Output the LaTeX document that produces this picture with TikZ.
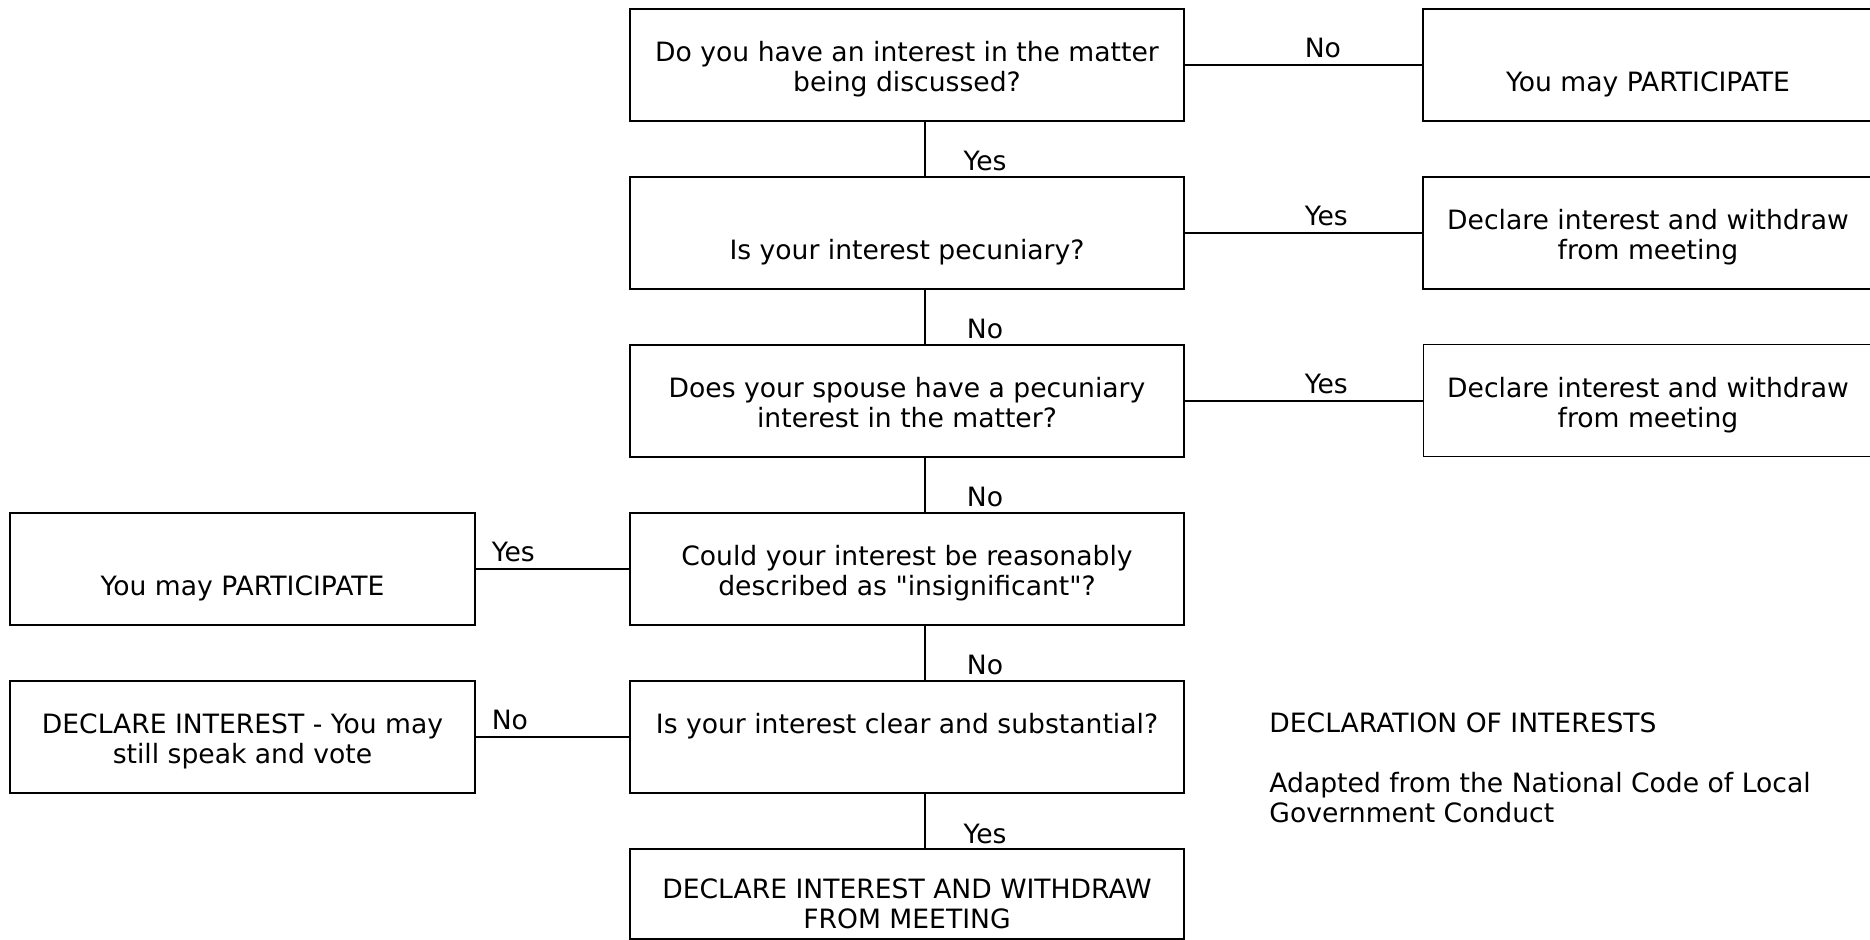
\documentclass[tikz,border=0pt]{standalone}
\usepackage{fontspec}
\setmainfont{DejaVu Sans}
\usetikzlibrary{positioning}

\newcommand{\boxfont}{\fontsize{13.3pt}{15pt}\selectfont}
\newcommand{\twolines}[3][16pt]{\rule{0pt}{#1}#2\\#3\strut}

\begin{document}
\begin{tikzpicture}[
  qbox/.style={draw, line width=1.3pt, outer sep=0pt, inner sep=0pt,
               minimum width=277pt, minimum height=56pt,
               align=center, font=\boxfont},
  abox/.style={qbox, minimum width=225pt},
  lbox/.style={qbox, minimum width=232.5pt},
  thinbox/.style={abox, line width=0.5pt},
  link/.style={line width=1.3pt},
  lbl/.style={font=\boxfont, inner sep=0pt, anchor=base west},
  vlbl/.style={font=\boxfont, inner sep=0pt, anchor=base},
  note/.style={font=\boxfont, inner sep=0pt, align=left},
  ]
  \useasboundingbox (0,0) rectangle (935pt,-470pt);

  % questions down the middle
  \node[qbox] (q1) at (453.5pt,-32.5pt) {\twolines{Do you have an interest in the matter}{being discussed?}};
  \node[qbox, below=28pt of q1] (q2) {\twolines{}{Is your interest pecuniary?}};
  \node[qbox, below=28pt of q2] (q3) {\twolines{Does your spouse have a pecuniary}{interest in the matter?}};
  \node[qbox, below=28pt of q3] (q4) {\twolines{Could your interest be reasonably}{described as \textquotedbl insignificant\textquotedbl?}};
  \node[qbox, below=28pt of q4] (q5) {\twolines{Is your interest clear and substantial?}{}};
  \node[qbox, below=28pt of q5, minimum height=45pt] (q6) {\twolines[24pt]{DECLARE INTEREST AND WITHDRAW}{FROM MEETING}};

  % outcomes
  \node[abox, right=119.5pt of q1] (r1) {\twolines{}{You may PARTICIPATE}};
  \node[abox, right=119.5pt of q2] (r2) {\twolines{Declare interest and withdraw}{from meeting}};
  \node[thinbox, right=119.5pt of q3] (r3) {\twolines{Declare interest and withdraw}{from meeting}};
  \node[lbox, left=77.5pt of q4] (l1) {\twolines{}{You may PARTICIPATE}};
  \node[lbox, left=77.5pt of q5] (l2) {\twolines{DECLARE INTEREST - You may}{still speak and vote}};

  \node[note, anchor=north west] (notes) at ([xshift=42.5pt, yshift=-15.6pt]q5.north east)
    {DECLARATION OF INTERESTS\\[15pt]Adapted from the National Code of Local\\Government Conduct};

  \draw[link] (q1) -- node[lbl, yshift=3.5pt] {No} (r1);
  \draw[link] (q2) -- node[lbl, yshift=3.5pt] {Yes} (r2);
  \draw[link] (q3) -- node[lbl, yshift=3.5pt] {Yes} (r3);
  \draw[link] (q4) -- node[lbl, pos=0.9, yshift=3.5pt] {Yes} (l1);
  \draw[link] (q5) -- node[lbl, pos=0.9, yshift=3.5pt] {No} (l2);

  \draw[link] ([xshift=9pt]q1.south) -- node[vlbl, pos=1, xshift=30pt, yshift=3pt] {Yes} ([xshift=9pt]q2.north);
  \draw[link] ([xshift=9pt]q2.south) -- node[vlbl, pos=1, xshift=30pt, yshift=3pt] {No} ([xshift=9pt]q3.north);
  \draw[link] ([xshift=9pt]q3.south) -- node[vlbl, pos=1, xshift=30pt, yshift=3pt] {No} ([xshift=9pt]q4.north);
  \draw[link] ([xshift=9pt]q4.south) -- node[vlbl, pos=1, xshift=30pt, yshift=3pt] {No} ([xshift=9pt]q5.north);
  \draw[link] ([xshift=9pt]q5.south) -- node[vlbl, pos=1, xshift=30pt, yshift=3pt] {Yes} ([xshift=9pt]q6.north);
\end{tikzpicture}
\end{document}
